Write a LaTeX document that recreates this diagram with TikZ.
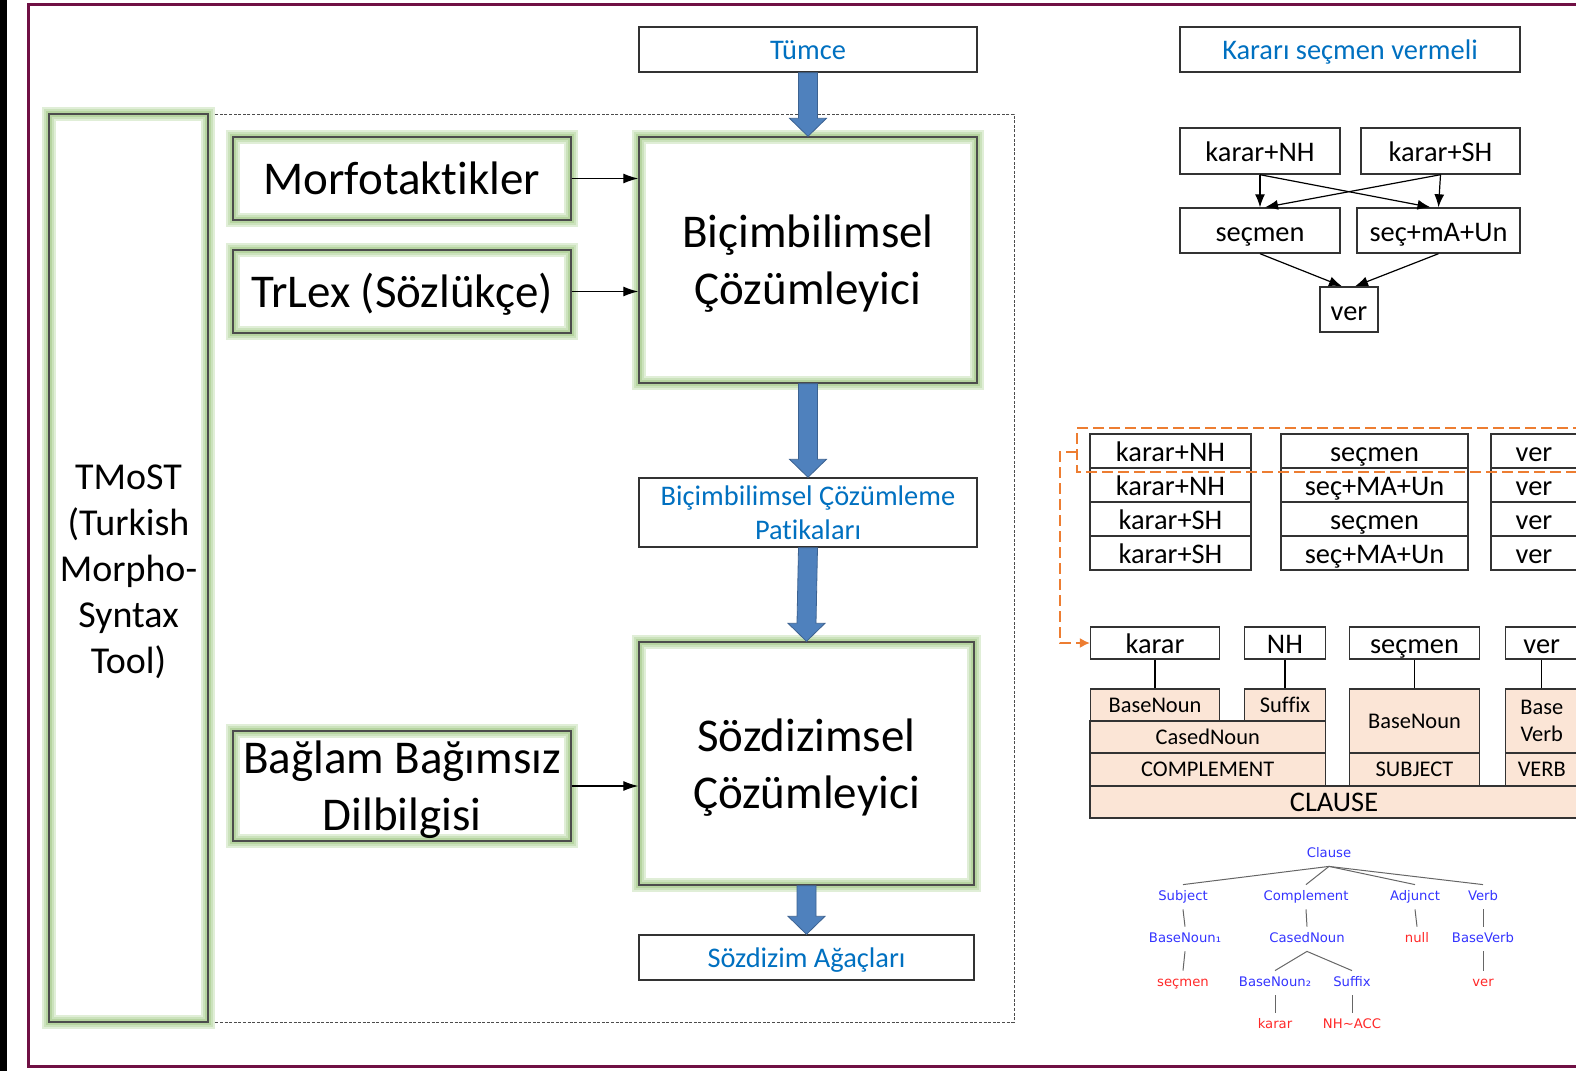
\documentclass[tikz,border=0pt]{standalone}
\usepackage{fontspec}
\setmainfont{Carlito}[Ligatures=NoCommon]
\newfontfamily\agacfont{DejaVu Sans}
\usetikzlibrary{arrows.meta,calc}

\definecolor{cerceve}{RGB}{112,16,68}
\definecolor{yazimavi}{RGB}{0,112,192}
\definecolor{okmavi}{RGB}{79,129,189}
\definecolor{okkenar}{RGB}{60,98,145}
\definecolor{yesil}{RGB}{182,212,160}
\definecolor{yesilorta}{RGB}{203,226,188}
\definecolor{yesilacik}{RGB}{224,238,215}
\definecolor{turuncu}{RGB}{237,125,49}
\definecolor{seftali}{RGB}{251,229,214}
\definecolor{agacmavi}{RGB}{51,51,255}
\definecolor{agackirmizi}{RGB}{255,40,40}

% kalin mavi ok: #1 kutusunun altindan #2 kutusunun ustune
\newcommand{\kalinok}[2]{%
\fill[okmavi,draw=okkenar,line width=0.4pt]
  ($(#1.south)+(-9.5,0)$) -- ($(#2.north)+(-9.5,-18)$) -- ($(#2.north)+(-18.5,-18)$)
  -- (#2.north) -- ($(#2.north)+(18.5,-18)$) -- ($(#2.north)+(9.5,-18)$)
  -- ($(#1.south)+(9.5,0)$) -- cycle;}

\begin{document}
\begin{tikzpicture}[x=0.5pt,y=-0.5pt,
  kutu/.style={draw=black!80,line width=0.7pt,inner sep=0pt,align=center},
  parlak/.style={kutu,draw=black!70,preaction={draw=yesilacik,line width=7pt},preaction={draw=yesilorta,line width=5pt},preaction={draw=yesil,line width=3pt}},
  buyuk/.style={font=\fontsize{23.5}{28.6}\selectfont},
  tek/.style={text height=10.6pt,text depth=0pt},
  orta/.style={font=\fontsize{14.2}{17}\selectfont},
  mavi/.style={orta,text=yazimavi,text height=9.6pt,text depth=0pt},
  sutunA/.style={kutu,orta,tek,minimum width=80.5pt,minimum height=17pt},
  sutunB/.style={kutu,orta,tek,minimum width=93.5pt,minimum height=17pt},
  sutunC/.style={kutu,orta,tek,minimum width=43pt,minimum height=17pt},
  kategori/.style={kutu,fill=seftali,font=\fontsize{11.2}{13.5}\selectfont},
  ince/.style={-{Latex[length=7.5pt,width=5pt]},line width=0.6pt},
  incesag/.style={-{Latex[length=6.5pt,width=5pt]},line width=0.6pt},
  agac/.style={font=\agacfont\fontsize{6.6}{8}\selectfont,inner xsep=1pt,inner ysep=2.75pt,text height=5pt,text depth=1.5pt},
  ad/.style={agac,text=agacmavi},
  kelime/.style={agac,text=agackirmizi},
  dal/.style={draw=black!60,line width=0.5pt}
]
\useasboundingbox (0,0) rectangle (1576,1071);
\clip (0,0) rectangle (1576,1071);

%cerceve
\fill[black] (0,0) rectangle (7,1071);
\draw[cerceve,line width=1.5pt] (1600,4.5) -- (28,4.5) -- (28,1066.5) -- (1600,1066.5);

%sol taraf
\draw[black!70,line width=0.4pt,dash pattern=on 1.5pt off 0.8pt] (208,114) rectangle (1014,1022);
\node[parlak,minimum width=79.5pt,minimum height=454pt] (tmost) at (128.5,568) {};
\node[align=center,font=\fontsize{19}{23}\selectfont] (tmostyazi) at ($(tmost.center)+(0,4)$) {TMoST\\(Turkish\\Morpho-\\Syntax\\Tool)};

\node[kutu,mavi,minimum width=169pt,minimum height=22.5pt] (tumce) at (808,49.5) {Tümce};
\node[parlak,buyuk,text height=15.5pt,text depth=0pt,minimum width=169pt,minimum height=41.5pt] (morf) at (402,178.5) {Morfotaktikler};
\node[parlak,buyuk,text height=15.5pt,text depth=0pt,minimum width=169pt,minimum height=41.5pt] (trlex) at (402,291.5) {TrLex (Sözlükçe)};
\node[parlak,minimum width=169pt,minimum height=123pt] (bicim) at (808,260) {};
\node[buyuk,align=center] (bicimyazi) at ($(bicim.center)+(0,4)$) {Biçimbilimsel\\Çözümleyici};
\node[kutu,orta,text=yazimavi,minimum width=169pt,minimum height=34.5pt] (patika) at (808,512.5) {Biçimbilimsel Çözümleme\\Patikaları};
\node[parlak,minimum width=169pt,minimum height=55pt] (baglam) at (402,786) {};
\node[buyuk,align=center] (baglamyazi) at ($(baglam.center)+(0,3.5)$) {Bağlam Bağımsız\\Dilbilgisi};
\node[parlak,minimum width=167.5pt,minimum height=121.5pt] (sozdiz) at (806.5,763.5) {};
\node[buyuk,align=center] (sozdizyazi) at ($(sozdiz.center)+(0,4.5)$) {Sözdizimsel\\Çözümleyici};
\node[kutu,mavi,minimum width=167.5pt,minimum height=22.5pt] (agac) at (806.5,957.5) {Sözdizim Ağaçları};

\draw[ince] (morf.east) -- (morf.east -| bicim.west);
\draw[ince] (trlex.east) -- (trlex.east -| bicim.west);
\draw[ince] (baglam.east) -- (baglam.east -| sozdiz.west);

\kalinok{tumce}{bicim}
\kalinok{bicim}{patika}
\kalinok{patika}{sozdiz}
\kalinok{sozdiz}{agac}

%sag ust
\node[kutu,mavi,minimum width=170pt,minimum height=22.5pt] (tumce2) at (1350,49.5) {Kararı seçmen vermeli};
\node[kutu,orta,tek,minimum width=80pt,minimum height=23pt] (knh) at (1260,151) {karar+NH};
\node[kutu,orta,tek,minimum width=79.5pt,minimum height=23pt] (ksh) at (1440.5,151) {karar+SH};
\node[kutu,orta,tek,minimum width=80pt,minimum height=22.5pt] (secmen) at (1260,230.5) {seçmen};
\node[kutu,orta,tek,minimum width=81.5pt,minimum height=22.5pt] (secma) at (1438.5,230.5) {seç+mA+Un};
\node[kutu,orta,tek,minimum width=29pt,minimum height=22.5pt] (ver) at (1349,309.5) {ver};

\draw[incesag] (knh.south) -- (secmen.north);
\draw[incesag] (knh.south) -- ($(secma.north)+(-8,0)$);
\draw[incesag] (ksh.south) -- (secma.north);
\draw[incesag] (ksh.south) -- ($(secmen.north)+(5,0)$);
\draw[incesag] (secmen.south) -- ($(ver.north)+(-7,0)$);
\draw[incesag] (secma.south) -- ($(ver.north)+(6,0)$);

%patika tablosu
\node[sutunA] (pa1) at (1170.5,451) {karar+NH};
\node[sutunA] (pa2) at (1170.5,485) {karar+NH};
\node[sutunA] (pa3) at (1170.5,519) {karar+SH};
\node[sutunA] (pa4) at (1170.5,553) {karar+SH};
\node[sutunB] (pb1) at (1374.5,451) {seçmen};
\node[sutunB] (pb2) at (1374.5,485) {seç+MA+Un};
\node[sutunB] (pb3) at (1374.5,519) {seçmen};
\node[sutunB] (pb4) at (1374.5,553) {seç+MA+Un};
\node[sutunC] (pc1) at (1534,451) {ver};
\node[sutunC] (pc2) at (1534,485) {ver};
\node[sutunC] (pc3) at (1534,519) {ver};
\node[sutunC] (pc4) at (1534,553) {ver};

%secilen patika
\draw[turuncu,line width=0.7pt,dash pattern=on 5.5pt off 2.5pt] (1600,428) -- (1077,428) -- (1077,472) -- (1600,472);
\coordinate (kirik) at (1060,452);

%kelime / kategori tablosu
\node[kutu,orta,tek,minimum width=64.5pt,minimum height=16pt] (karar) at (1155,643) {karar};
\node[kutu,orta,tek,minimum width=40.5pt,minimum height=16pt] (nh) at (1285,643) {NH};
\node[kutu,orta,tek,minimum width=65pt,minimum height=16pt] (secmen2) at (1414.5,643) {seçmen};
\node[kutu,orta,tek,minimum width=36.25pt,minimum height=16pt] (ver2) at (1541.75,643) {ver};

\draw[turuncu,line width=0.7pt,dash pattern=on 5.5pt off 2.5pt,-{Latex[length=5pt,width=5pt]}] (1077,452) -- (kirik) -- (kirik |- karar.west) -- (karar.west);

\node[kategori,minimum width=64.5pt,minimum height=16pt] (bnoun) at (1155,705) {BaseNoun};
\node[kategori,minimum width=40.5pt,minimum height=16pt] (suffix) at (1285,705) {Suffix};
\node[kategori,minimum width=117.75pt,minimum height=16pt] (cased) at (1207.75,737) {CasedNoun};
\node[kategori,minimum width=117.75pt,minimum height=16.5pt] (compl) at (1207.75,769.5) {COMPLEMENT};
\node[kategori,minimum width=65pt,minimum height=32pt] (bnoun2) at (1414.5,721) {BaseNoun};
\node[kategori,minimum width=65pt,minimum height=16.5pt] (subj) at (1414.5,769.5) {SUBJECT};
\node[kategori,minimum width=36.25pt,minimum height=32pt] (bverb) at (1541.75,721) {Base\\Verb};
\node[kategori,minimum width=36.25pt,minimum height=16.5pt] (verb) at (1541.75,769.5) {VERB};
\node[kutu,fill=seftali,orta,minimum width=244pt,minimum height=16pt] (clause) at (1334,802) {CLAUSE};

\draw[line width=0.7pt] (karar.south) -- (bnoun.north);
\draw[line width=0.7pt] (nh.south) -- (suffix.north);
\draw[line width=0.7pt] (secmen2.south) -- (bnoun2.north);
\draw[line width=0.7pt] (ver2.south) -- (bverb.north);

%sozdizim agaci
\node[ad] (t0) at (1329,854) {Clause};
\node[ad] (t1) at (1183,897) {Subject};
\node[ad] (t2) at (1306,897) {Complement};
\node[ad] (t3) at (1415,897) {Adjunct};
\node[ad] (t4) at (1483,897) {Verb};
\node[ad] (t11) at (1185,939) {BaseNoun₁};
\node[ad] (t21) at (1307,939) {CasedNoun};
\node[kelime] (t31) at (1417,939) {null};
\node[ad] (t41) at (1483,939) {BaseVerb};
\node[kelime] (t111) at (1183,983) {seçmen};
\node[ad] (t211) at (1275,983) {BaseNoun₂};
\node[ad] (t212) at (1352,983) {Suffix};
\node[kelime] (t411) at (1483,983) {ver};
\node[kelime] (t2111) at (1275,1025) {karar};
\node[kelime] (t2121) at (1352,1025) {NH\textasciitilde ACC};

\draw[dal] (t0.south) -- (t1.north);
\draw[dal] (t0.south) -- (t2.north);
\draw[dal] (t0.south) -- (t3.north);
\draw[dal] (t0.south) -- (t4.north);
\draw[dal] (t1.south) -- (t11.north);
\draw[dal] (t11.south) -- (t111.north);
\draw[dal] (t2.south) -- (t21.north);
\draw[dal] (t21.south) -- (t211.north);
\draw[dal] (t21.south) -- (t212.north);
\draw[dal] (t211.south) -- (t2111.north);
\draw[dal] (t212.south) -- (t2121.north);
\draw[dal] (t3.south) -- (t31.north);
\draw[dal] (t4.south) -- (t41.north);
\draw[dal] (t41.south) -- (t411.north);

\end{tikzpicture}
\end{document}
